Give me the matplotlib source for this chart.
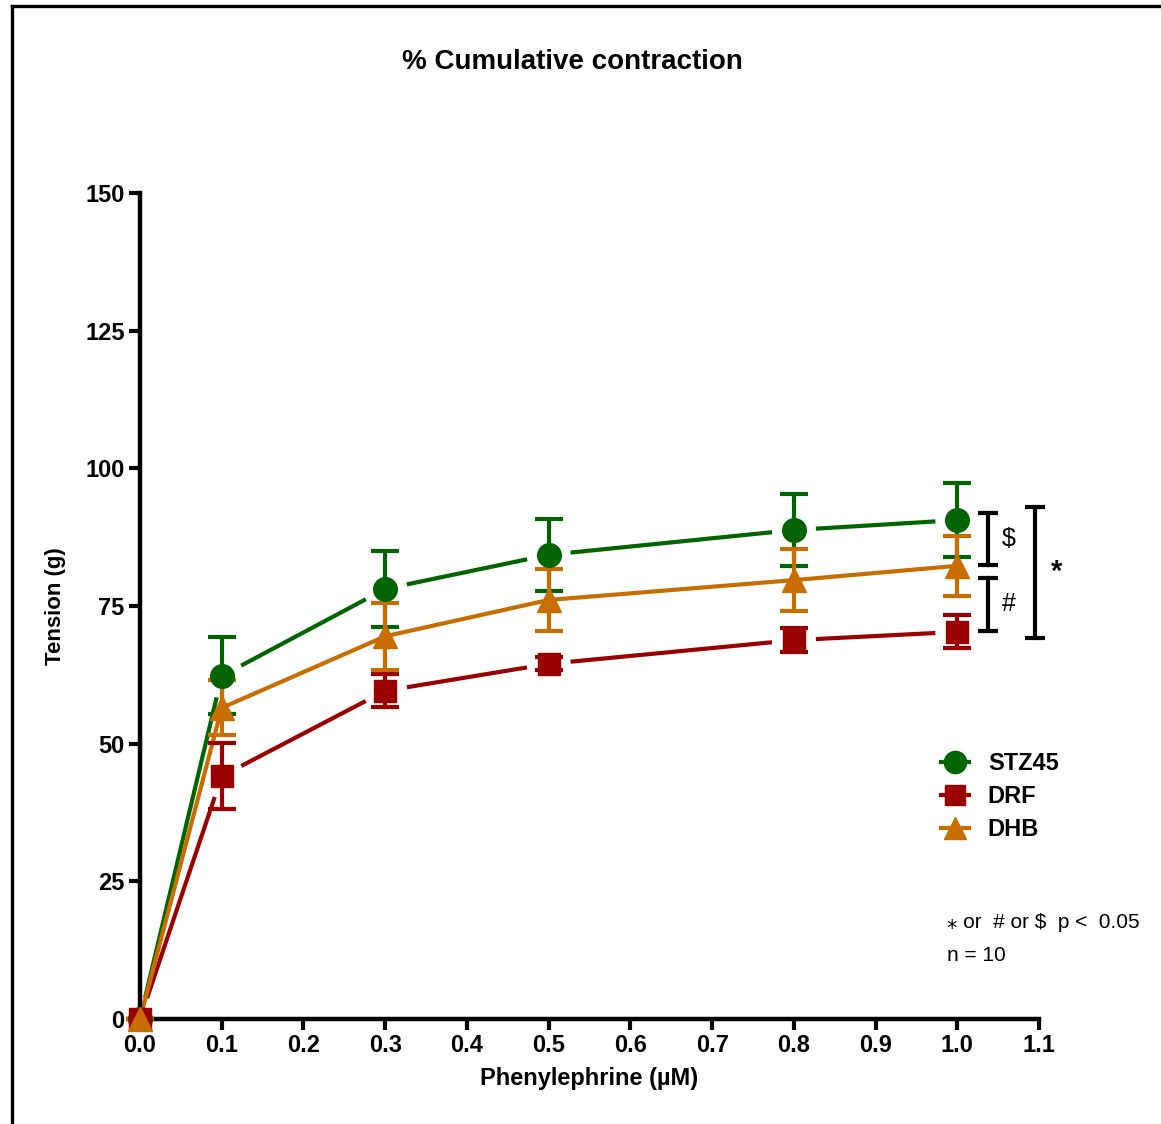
import numpy as np
import matplotlib.pyplot as plt
from matplotlib.lines import Line2D

plt.rcParams['font.family'] = ['Liberation Sans', 'DejaVu Sans']

# data
conc = [0.0, 0.1, 0.3, 0.5, 0.8, 1.0]

stz45_mean = [0.0, 62.3, 78.1, 84.3, 88.8, 90.6]
stz45_sem = [0.0, 7.0, 6.9, 6.5, 6.5, 6.7]

drf_mean = [0.0, 44.1, 59.6, 64.5, 68.8, 70.3]
drf_sem = [0.0, 6.0, 3.0, 1.2, 2.2, 3.0]

dhb_mean = [0.0, 56.5, 69.5, 76.1, 79.7, 82.3]
dhb_sem = [0.0, 5.0, 6.1, 5.7, 5.6, 5.4]

series_names = ["STZ45", "DRF", "DHB"]
colors = ["#006400", "#9B0000", "#C86E00"]
markers = ["o", "s", "^"]

# significance brackets at 1.0 uM: (label, low, high)
brackets = [("$", 82.4, 91.9), ("#", 70.5, 80.1), ("*", 69.2, 93.0)]

fig = plt.figure(figsize=(11.61, 11.24), dpi=100)
ax = fig.add_axes([0.1206, 0.0934, 0.7744, 0.7349])
ax.set_xlim(0, 1.1)
ax.set_ylim(0, 150)


def gapped_line(x, y, color, gap_px):
    # draw connecting segments that stop short of the markers
    pts = ax.transData.transform(np.column_stack([x, y]))
    inv = ax.transData.inverted()
    for p0, p1 in zip(pts[:-1], pts[1:]):
        d = p1 - p0
        L = np.hypot(*d)
        u = d / L
        a = inv.transform(p0 + u * gap_px)
        b = inv.transform(p1 - u * gap_px)
        ax.plot([a[0], b[0]], [a[1], b[1]], color=color, lw=3,
                solid_capstyle='butt', zorder=2, clip_on=False)


all_means = [stz45_mean, drf_mean, dhb_mean]
all_sems = [stz45_sem, drf_sem, dhb_sem]
gaps = [22, 22, 0]
msizes = [17, 16, 17]

handles = []
for name, m, s, c, mk, g, ms in zip(series_names, all_means, all_sems,
                                    colors, markers, gaps, msizes):
    if g > 0:
        gapped_line(conc, m, c, g)
    else:
        ax.plot(conc, m, color=c, lw=3, zorder=2, clip_on=False)
    eb = ax.errorbar(conc, m, yerr=s, fmt='none', ecolor=c, elinewidth=3,
                     capsize=10, capthick=3, zorder=3, clip_on=False)
    for art in eb.lines[1] + eb.lines[2]:
        art.set_clip_on(False)
    ax.plot(conc, m, linestyle='none', marker=mk, ms=ms, color=c,
            zorder=4, clip_on=False)
    handles.append(Line2D([], [], color=c, lw=3, marker=mk, ms=ms - 1))

# axes styling
for side in ['top', 'right']:
    ax.spines[side].set_visible(False)
for side in ['left', 'bottom']:
    ax.spines[side].set_linewidth(3.2)
ax.set_yticks([0, 25, 50, 75, 100, 125, 150])
ax.set_xticks(np.round(np.arange(0, 1.11, 0.1), 1))
ax.set_xticklabels([f"{v:.1f}" for v in np.arange(0, 1.11, 0.1)])
ax.tick_params(direction='out', length=8, width=3, labelsize=17, pad=3)
for lab in ax.get_xticklabels() + ax.get_yticklabels():
    lab.set_fontweight('bold')

ax.set_ylabel("Tension (g)", fontsize=16, fontweight='bold', labelpad=14)
ax.set_xlabel("Phenylephrine (µM)", fontsize=17, fontweight='bold', labelpad=7)
fig.text(0.493, 0.945, "% Cumulative contraction", ha='center', va='center',
         fontsize=20, fontweight='bold')

# significance brackets
bx = [1.037, 1.037, 1.095]
for (lab, lo, hi), x in zip(brackets, bx):
    ax.plot([x, x], [lo, hi], color='black', lw=3, marker='_', ms=15,
            mew=3, clip_on=False, zorder=5)
    ax.text(x + 0.026, (lo + hi) / 2, lab, fontsize=18 if lab != "*" else 21,
            ha='center', va='center', fontweight='bold' if lab == "*" else 'normal')

leg = fig.legend(handles, series_names, loc='upper left',
                 bbox_to_anchor=(0.802, 0.339), frameon=False,
                 prop={'size': 17, 'weight': 'bold'}, handlelength=1.2,
                 handletextpad=0.8, labelspacing=0.42, borderaxespad=0)

fig.text(0.816, 0.179, "⁎ or  # or $  p <  0.05", fontsize=15, va='center')
fig.text(0.816, 0.150, "n = 10", fontsize=15, va='center')

# outer frame (left and top edges)
fig.add_artist(Line2D([0.0105, 0.0105], [0.0, 0.9947], color='black', lw=2.4,
                      transform=fig.transFigure))
fig.add_artist(Line2D([0.0105, 1.0], [0.9947, 0.9947], color='black', lw=2.4,
                      transform=fig.transFigure))

fig.savefig("out.png", dpi=100)
